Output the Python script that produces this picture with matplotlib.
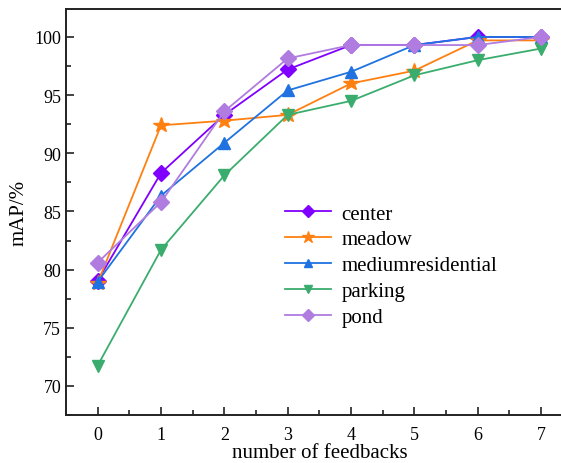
import matplotlib
matplotlib.use("Agg")
import matplotlib.pyplot as plt
from matplotlib.ticker import MultipleLocator

plt.rcParams["font.family"] = ["Liberation Serif", "DejaVu Serif"]

feedbacks = [0, 1, 2, 3, 4, 5, 6, 7]
center = [79.05, 88.3, 93.3, 97.2, 99.3, 99.3, 100.0, 100.0]
meadow = [78.85, 92.4, 92.8, 93.3, 96.0, 97.1, 99.7, 99.7]
mediumresidential = [78.95, 86.35, 90.9, 95.4, 97.0, 99.3, 100.0, 100.0]
parking = [71.75, 81.7, 88.1, 93.3, 94.5, 96.7, 98.0, 99.0]
pond = [80.6, 85.8, 93.6, 98.15, 99.3, 99.3, 99.3, 100.0]

series = [
    ("center", center, "#8000ff", "D"),
    ("meadow", meadow, "#ff8010", "*"),
    ("mediumresidential", mediumresidential, "#1f72e0", "^"),
    ("parking", parking, "#3aad6e", "v"),
    ("pond", pond, "#b07ce0", "D"),
]

fig = plt.figure(figsize=(5.61, 4.64), dpi=100)
ax = fig.add_axes([66 / 561, 48 / 464, (572.7 - 66) / 561, (416 - 10) / 464])

for name, vals, color, marker in series:
    ms = 11.5 if marker == "*" else 8.5
    if marker == "D":
        ms = 8
    ax.plot(feedbacks, vals, color=color, marker=marker, markersize=ms,
            linewidth=1.3, label=name)

ax.set_xlim(-0.5, 7.5)
ax.set_ylim(67.5, 102.4)
ax.xaxis.set_major_locator(MultipleLocator(1))
ax.xaxis.set_minor_locator(MultipleLocator(0.5))
ax.yaxis.set_major_locator(MultipleLocator(5))
ax.yaxis.set_minor_locator(MultipleLocator(2.5))
ax.tick_params(which="both", direction="in", top=False, right=False,
               width=1.2, labelsize=13, color="#222222")
ax.tick_params(which="major", length=6)
ax.tick_params(which="minor", length=3.5)
ax.tick_params(axis="x", pad=8)
for s in ax.spines.values():
    s.set_linewidth(1.4)
    s.set_color("#222222")

ax.set_xlabel("number of feedbacks", fontsize=15, labelpad=0)
ax.set_ylabel("mAP/%", fontsize=15, labelpad=4)

leg = fig.legend(loc="upper left", bbox_to_anchor=(285 / 561, 1 - 205 / 464),
                 frameon=False, fontsize=15, handlelength=2.2,
                 handletextpad=0.5, labelspacing=0.3, borderpad=0,
                 borderaxespad=0, markerscale=0.75)

fig.savefig("out.png", dpi=100)
